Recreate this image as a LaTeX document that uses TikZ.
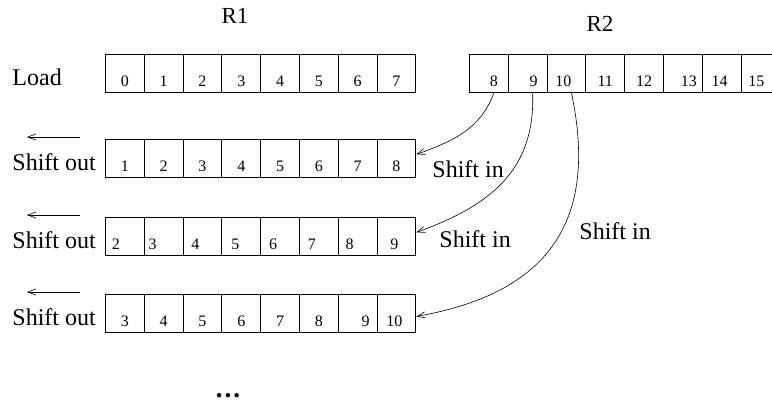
\documentclass[tikz,border=0pt]{standalone}
\usepackage{fontspec}
\setmainfont{Liberation Serif}
\usetikzlibrary{arrows.meta}

\tikzset{
  cell/.style={draw,minimum width=38.8pt,minimum height=38pt,inner sep=0pt,anchor=north west},
  digit/.style={anchor=base,inner sep=0pt,font=\fontsize{16}{18}\selectfont},
  lbl/.style={anchor=base west,inner sep=0pt,font=\fontsize{24}{28}\selectfont},
  shiftarrow/.style={-{Straight Barb[length=8pt,width=6pt]},line width=0.6pt}
}

\begin{document}
\begin{tikzpicture}[x=1pt,y=1pt,line width=0.9pt]
\clip (0,0) rectangle (772,-402);
\node[anchor=base,inner sep=0pt,font=\fontsize{23}{26}\selectfont] (r1) at (235,-23) {R1};
\node[anchor=base,inner sep=0pt,font=\fontsize{23}{26}\selectfont] (r2) at (600,-31) {R2};
% load into R1 and R2
\foreach \d [count=\i from 0] in {0,...,7} {
  \node[cell] (ld\i) at ({105+38.8*\i},-54) {};
  \node[digit] at ([yshift=6pt]ld\i.south) {\d};
}
\foreach \dx [count=\i from 8] in {5,6,-3,0,0,6,-2,-4} {
  \node[cell] (rr\i) at ({469+38.8*(\i-8)},-54) {};
  \node[digit] at ([xshift=\dx pt,yshift=6pt]rr\i.south) {\i};
}
\node[lbl] (load) at ([xshift=-93pt,yshift=7pt]ld0.south west) {Load};
% shifted rows
\foreach \d [count=\i from 0] in {1,...,8} {
  \node[cell] (sa\i) at ({105+38.8*\i},-139) {};
  \node[digit] at ([yshift=6pt]sa\i.south) {\d};
}
\foreach \d/\dx [count=\i from 0] in {2/-9,3/-11,4/-7,5/-6,6/-7,7/-7,8/-8,9/-2} {
  \node[cell] (sb\i) at ({105+38.8*\i},-217) {};
  \node[digit] at ([xshift=\dx pt,yshift=6pt]sb\i.south) {\d};
}
\foreach \d/\dx [count=\i from 0] in {3/0,4/0,5/0,6/0,7/0,8/0,9/8,10/-2} {
  \node[cell] (sc\i) at ({105+38.8*\i},-294) {};
  \node[digit] at ([xshift=\dx pt,yshift=6pt]sc\i.south) {\d};
}
\foreach \r in {sa,sb,sc} {
  \node[lbl] (out\r) at ([xshift=-93pt,yshift=7pt]\r0.south west) {Shift out};
  \draw[shiftarrow] ([xshift=-25pt,yshift=2pt]\r0.north west) -- ([xshift=-78pt,yshift=2pt]\r0.north west);
}
\draw[shiftarrow] ([xshift=5pt]rr8.south) to[out=-110,in=20] ([yshift=4pt]sa7.east);
\draw[shiftarrow] ([xshift=5pt]rr9.south) to[out=-88,in=20,looseness=1.1] ([yshift=4pt]sb7.east);
\draw[shiftarrow] ([xshift=5pt]rr10.south) to[out=-78,in=10,looseness=1.25] ([yshift=-3pt]sc7.east);
\node[lbl] (in1) at (432,-177) {Shift in};
\node[lbl] (in2) at (439,-247) {Shift in};
\node[lbl] (in3) at (579,-239) {Shift in};
\node[anchor=base,inner sep=0pt,font=\bfseries\fontsize{27}{30}\selectfont] (dots) at (228,-397) {.\hspace{2pt}.\hspace{2pt}.};
\end{tikzpicture}
\end{document}
